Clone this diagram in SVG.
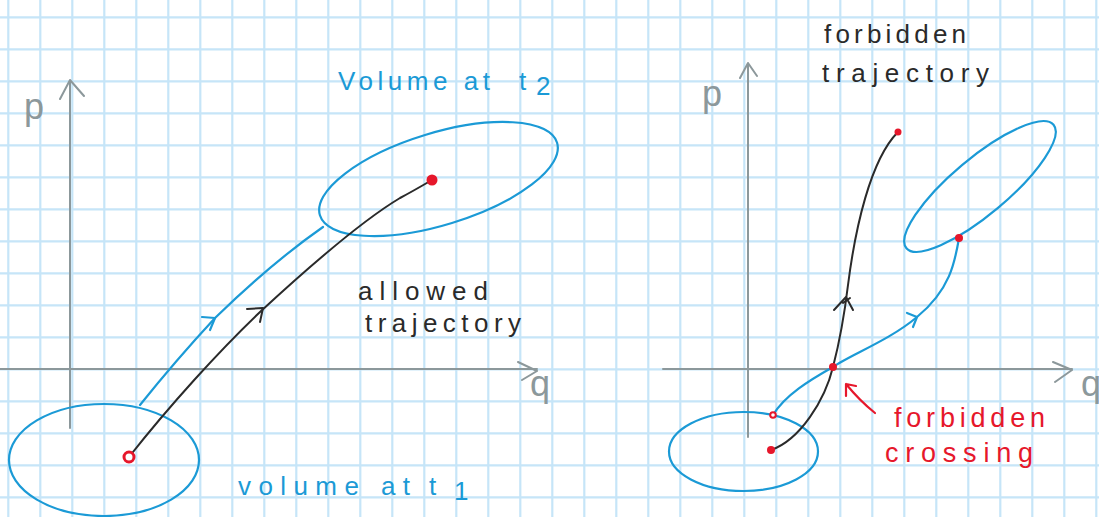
<svg xmlns="http://www.w3.org/2000/svg" width="1099" height="517" viewBox="0 0 1099 517">
<defs>
<style>
.grid{stroke:#c6e5f8;stroke-width:2.2;fill:none}
.axis{stroke:#8c989b;stroke-width:2;fill:none;stroke-linecap:round;stroke-linejoin:round}
.blue{stroke:#1b9ad6;stroke-width:2.2;fill:none;stroke-linecap:round;stroke-linejoin:round}
.blk{stroke:#2a2a2a;stroke-width:2;fill:none;stroke-linecap:round;stroke-linejoin:round}
.redl{stroke:#e6172b;stroke-width:2.2;fill:none;stroke-linecap:round;stroke-linejoin:round}
.dot{fill:#e6172b}
text{font-family:"Liberation Sans","DejaVu Sans",sans-serif}
.tb{fill:#1b9ad6;font-size:26px}
.tk{fill:#2a2a2a;font-size:26px}
.tr{fill:#e6172b;font-size:27px}
.tg{fill:#8c989b;font-size:36px}
</style>
</defs>
<rect width="1099" height="517" fill="#ffffff"/>
<path class="grid" d="M8.3,0V517 M40.3,0V517 M72.3,0V517 M104.3,0V517 M136.3,0V517 M168.3,0V517 M200.3,0V517 M232.3,0V517 M264.3,0V517 M296.3,0V517 M328.3,0V517 M360.3,0V517 M392.3,0V517 M424.3,0V517 M456.3,0V517 M488.3,0V517 M520.3,0V517 M552.3,0V517 M584.3,0V517 M616.3,0V517 M648.3,0V517 M680.3,0V517 M712.3,0V517 M744.3,0V517 M776.3,0V517 M808.3,0V517 M840.3,0V517 M872.3,0V517 M904.3,0V517 M936.3,0V517 M968.3,0V517 M1000.3,0V517 M1032.3,0V517 M1064.3,0V517 M1096.3,0V517
M0,17.3H1099 M0,49.3H1099 M0,81.3H1099 M0,113.3H1099 M0,145.3H1099 M0,177.3H1099 M0,209.3H1099 M0,241.3H1099 M0,273.3H1099 M0,305.3H1099 M0,337.3H1099 M0,369.3H1099 M0,401.3H1099 M0,433.3H1099 M0,465.3H1099 M0,497.3H1099"/>

<g id="axes-left">
<path class="axis" d="M70,428 V80 M60,99 L70,80 L84,96"/>
<path class="axis" d="M0,369 H537 M518,362 L537,371 L522,380"/>
<text class="tg" x="24" y="119">p</text>
<text class="tg" x="530" y="396">q</text>
</g>
<g id="axes-right">
<path class="axis" d="M748,437 V63 M740,78 L748,63 L757,76"/>
<path class="axis" d="M663,369 H1072 M1053,362 L1072,370 L1055,382"/>
<text class="tg" x="702" y="106" font-size="30">p</text>
<text class="tg" x="1081" y="396">q</text>
</g>

<g id="volume-t1-left">
<ellipse class="blue" cx="104" cy="460" rx="95" ry="56"/>
<text class="tb" x="238" y="495" textLength="172" lengthAdjust="spacing">volume at</text>
<text class="tb" x="429" y="495">t</text>
<text class="tb" x="454" y="500" font-size="16">1</text>
</g>
<g id="volume-t2-left">
<ellipse class="blue" cx="0" cy="0" rx="124" ry="46" transform="translate(438.5,179) rotate(-17)"/>
<text class="tb" x="338" y="90" textLength="152" lengthAdjust="spacing">Volume at</text>
<text class="tb" x="519" y="90" font-size="30">t</text>
<text class="tb" x="536" y="95" font-size="16">2</text>
</g>

<g id="allowed-label">
<text class="tk" x="358" y="300" textLength="130" lengthAdjust="spacing">allowed</text>
<text class="tk" x="365" y="332" textLength="156" lengthAdjust="spacing">trajectory</text>
</g>

<g id="forbidden-traj-label">
<text class="tk" x="824" y="43" textLength="142" lengthAdjust="spacing">forbidden</text>
<text class="tk" x="822" y="82" textLength="167" lengthAdjust="spacing">trajectory</text>
</g>

<g id="forbidden-crossing-label">
<text class="tr" x="894" y="427" textLength="151" lengthAdjust="spacing">forbidden</text>
<text class="tr" x="885" y="462" textLength="148" lengthAdjust="spacing">crossing</text>
</g>

<g id="volume-t1-right">
<ellipse class="blue" cx="743.5" cy="451.5" rx="74.5" ry="39.5"/>
</g>
<g id="volume-t2-right">
<ellipse class="blue" cx="0" cy="0" rx="96" ry="28" transform="translate(980,186.5) rotate(-40)"/>
</g>

<g id="connectors">
<path class="blue" d="M140,405 C160,380 190,345 215,318 C250,284 290,250 323,227"/>
<path class="blue" d="M202,317 L215,318 L210,330"/>
<path class="blk" d="M129,457 C170,405 220,350 260,312 C300,275 360,222 400,198 C415,190 425,184 432,180"/>
<path class="blk" d="M247,309 L263,308 L260,322"/>

<path class="blue" d="M959,238 C955,262 950,290 917,317 C890,340 850,355 833,367 C810,380 785,395 773,415"/>
<path class="blue" d="M907,313 L917,317 L913,327"/>
<path class="blk" d="M771,450 C800,440 825,400 833,367 C840,340 845,310 848,285 C855,230 870,160 898,132"/>
<path class="blk" d="M834,310 L846,297 L853,310 M843,303 L850,298"/>
<path class="redl" d="M875,413 C865,405 855,395 846,384 M846,384 L846,396 M846,384 L856,386"/>

<circle cx="129" cy="457" r="5" fill="#fff" stroke="#e6172b" stroke-width="3"/>
<circle class="dot" cx="432" cy="180" r="5.5"/>
<circle class="dot" cx="898" cy="132" r="3.5"/>
<circle class="dot" cx="959" cy="238" r="4"/>
<circle class="dot" cx="833" cy="367" r="4"/>
<circle class="dot" cx="771" cy="450" r="4"/>
<circle cx="773" cy="415" r="2.8" fill="#fff" stroke="#e6172b" stroke-width="2"/>
</g>
</svg>
